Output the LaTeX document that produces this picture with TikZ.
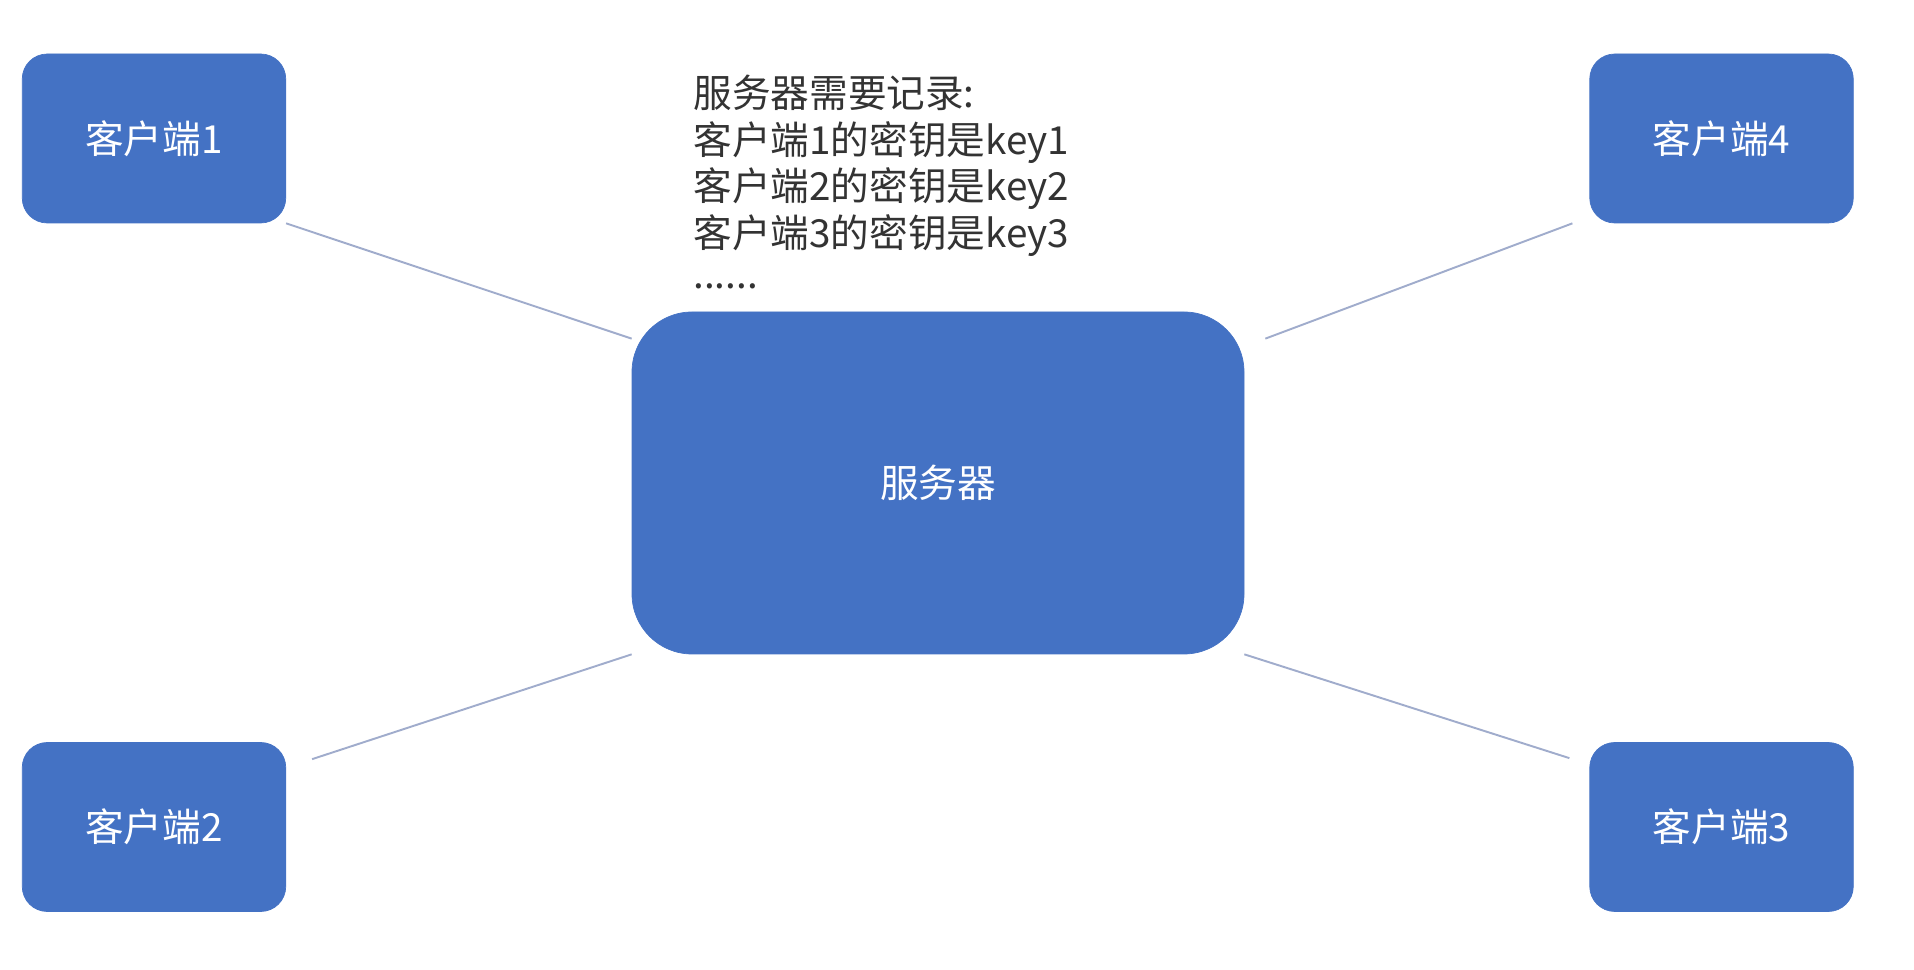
\documentclass[tikz,border=0pt]{standalone}
\usepackage{fontspec}
\setmainfont{Noto Sans CJK SC}
\definecolor{boxblue}{HTML}{4472C4}
\definecolor{linkgray}{RGB}{160,172,204}
\definecolor{notegray}{HTML}{333333}

\begin{document}
\begin{tikzpicture}[
  client/.style={fill=boxblue, draw=boxblue, rounded corners=0.5cm, minimum width=5.27cm, minimum height=3.38cm, text=white, font=\fontsize{22}{27}\selectfont},
  hub/.style={fill=boxblue, draw=boxblue, rounded corners=1.2cm, minimum width=12.24cm, minimum height=6.84cm, text=white, font=\fontsize{22}{27}\selectfont},
  link/.style={draw=linkgray, line width=1.1pt}]
\useasboundingbox (0,0) rectangle (38.28,19.4);
\node [hub] (srv) at (18.76,9.74) {服务器};
\node [client] (c1) at (3.08,16.63) {客户端1};
\node [client] (c4) at (34.43,16.63) {客户端4};
\node [client] (c2) at (3.08,2.86) {客户端2};
\node [client] (c3) at (34.43,2.86) {客户端3};
\node [anchor=north west, align=left, inner sep=0pt, text=notegray, font=\fontsize{22}{26.4}\selectfont] (note) at (13.86,17.9) {服务器需要记录:\\客户端1的密钥是key1\\客户端2的密钥是key2\\客户端3的密钥是key3\\[-3pt]......};
\draw [link] (c1.south east) -- ([yshift=-0.54cm]srv.north west);
\draw [link] ([xshift=-0.34cm]c4.south west) -- ([xshift=0.42cm,yshift=-0.54cm]srv.north east);
\draw [link] ([xshift=0.52cm,yshift=-0.34cm]c2.north east) -- (srv.south west);
\draw [link] (srv.south east) -- ([xshift=-0.4cm,yshift=-0.32cm]c3.north west);
\end{tikzpicture}
\end{document}
